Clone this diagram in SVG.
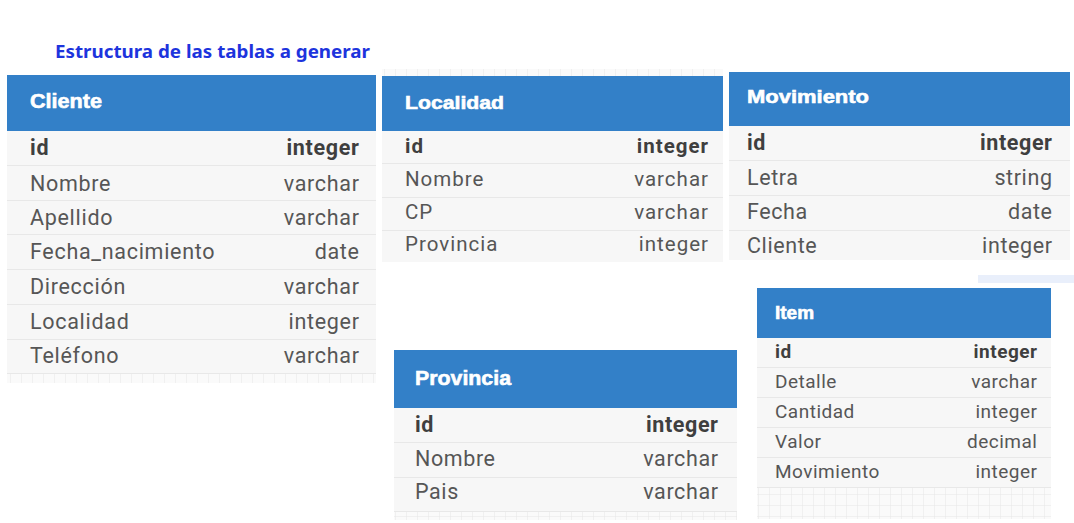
<svg xmlns="http://www.w3.org/2000/svg" width="1074" height="523" viewBox="0 0 1074 523">
  <defs>
    <pattern id="grid" width="11" height="11" patternUnits="userSpaceOnUse">
      <rect width="11" height="11" fill="#fafafa"/>
      <path d="M11 0V11M0 11H11" stroke="#e6e6e6" stroke-width="1" fill="none"/>
    </pattern>
    <style>
      .title { font-family: "Noto Sans", "Liberation Sans", sans-serif; font-weight: 700; font-size: 17px; fill: #1d34dd; }
      .head { fill: #3380c8; }
      .hname { font-family: "Liberation Sans", Arial, sans-serif; font-weight: 700; fill: #ffffff; stroke: #ffffff; stroke-width: 0.6; }
      .row { fill: #f7f7f7; }
      .sep { stroke: #e8e8e8; stroke-width: 1; }
      .f { font-family: Roboto, "Liberation Sans", sans-serif; fill: #565656; }
      .k { font-weight: 700; fill: #3f3f3f; }
      .t { text-anchor: end; }
      .grid { fill: url(#grid); }
    </style>
  </defs>
  <rect width="1074" height="523" fill="#ffffff"/>

  <text class="title" x="55" y="58" textLength="315" lengthAdjust="spacingAndGlyphs">Estructura de las tablas a generar</text>

  <!-- Cliente -->
  <g id="cliente">
    <rect class="grid" x="7" y="372" width="369" height="11"/>
    <rect class="row" x="7" y="131" width="369" height="242"/>
    <rect class="head" x="7" y="75" width="369" height="56"/>
    <text class="hname" x="30" y="108" font-size="20" textLength="72" lengthAdjust="spacingAndGlyphs">Cliente</text>
    <g class="sep">
      <line x1="7" y1="165.5" x2="376" y2="165.5"/>
      <line x1="7" y1="200.5" x2="376" y2="200.5"/>
      <line x1="7" y1="234.5" x2="376" y2="234.5"/>
      <line x1="7" y1="269.5" x2="376" y2="269.5"/>
      <line x1="7" y1="304.5" x2="376" y2="304.5"/>
      <line x1="7" y1="339.5" x2="376" y2="339.5"/>
      <line x1="7" y1="373.5" x2="376" y2="373.5"/>
    </g>
    <g font-size="21.5" letter-spacing="0.7">
      <text class="f k" x="30" y="155">id</text>
      <text class="f k t" x="359.7" y="155">integer</text>
      <text class="f" x="30" y="191">Nombre</text>
      <text class="f t" x="359.7" y="191">varchar</text>
      <text class="f" x="30" y="225">Apellido</text>
      <text class="f t" x="359.7" y="225">varchar</text>
      <text class="f" x="30" y="259">Fecha_nacimiento</text>
      <text class="f t" x="359.7" y="259">date</text>
      <text class="f" x="30" y="294">Dirección</text>
      <text class="f t" x="359.7" y="294">varchar</text>
      <text class="f" x="30" y="329">Localidad</text>
      <text class="f t" x="359.7" y="329">integer</text>
      <text class="f" x="30" y="363">Teléfono</text>
      <text class="f t" x="359.7" y="363">varchar</text>
    </g>
  </g>

  <!-- Localidad -->
  <g id="localidad">
    <rect class="grid" x="382" y="69" width="341" height="7"/>
    <rect class="row" x="382" y="131" width="341" height="131"/>
    <rect class="head" x="382" y="76" width="341" height="55"/>
    <text class="hname" x="405" y="109" font-size="19" textLength="99" lengthAdjust="spacingAndGlyphs">Localidad</text>
    <g class="sep">
      <line x1="382" y1="163.5" x2="723" y2="163.5"/>
      <line x1="382" y1="197.5" x2="723" y2="197.5"/>
      <line x1="382" y1="230.5" x2="723" y2="230.5"/>
    </g>
    <g font-size="20.5" letter-spacing="1">
      <text class="f k" x="405" y="153">id</text>
      <text class="f k t" x="709" y="153">integer</text>
      <text class="f" x="405" y="186">Nombre</text>
      <text class="f t" x="709" y="186">varchar</text>
      <text class="f" x="405" y="219">CP</text>
      <text class="f t" x="709" y="219">varchar</text>
      <text class="f" x="405" y="251">Provincia</text>
      <text class="f t" x="709" y="251">integer</text>
    </g>
  </g>

  <!-- Movimiento -->
  <g id="movimiento">
    <rect x="978" y="275" width="96" height="8" fill="#e9effb"/>
    <rect class="row" x="729" y="126" width="341" height="134"/>
    <rect class="head" x="729" y="72" width="341" height="54"/>
    <text class="hname" x="747" y="103" font-size="19" textLength="122" lengthAdjust="spacingAndGlyphs">Movimiento</text>
    <g class="sep">
      <line x1="729" y1="160.5" x2="1070" y2="160.5"/>
      <line x1="729" y1="195.5" x2="1070" y2="195.5"/>
      <line x1="729" y1="230.5" x2="1070" y2="230.5"/>
    </g>
    <g font-size="21.5" letter-spacing="0.6">
      <text class="f k" x="747" y="150">id</text>
      <text class="f k t" x="1052.6" y="150">integer</text>
      <text class="f" x="747" y="185">Letra</text>
      <text class="f t" x="1052.6" y="185">string</text>
      <text class="f" x="747" y="219">Fecha</text>
      <text class="f t" x="1052.6" y="219">date</text>
      <text class="f" x="747" y="253">Cliente</text>
      <text class="f t" x="1052.6" y="253">integer</text>
    </g>
  </g>

  <!-- Provincia -->
  <g id="provincia">
    <rect class="grid" x="394" y="510" width="343" height="10"/>
    <rect class="row" x="394" y="408" width="343" height="103"/>
    <rect class="head" x="394" y="350" width="343" height="58"/>
    <text class="hname" x="415" y="385" font-size="20" textLength="96" lengthAdjust="spacingAndGlyphs">Provincia</text>
    <g class="sep">
      <line x1="394" y1="442.5" x2="737" y2="442.5"/>
      <line x1="394" y1="477.5" x2="737" y2="477.5"/>
      <line x1="394" y1="511.5" x2="737" y2="511.5"/>
    </g>
    <g font-size="21.5" letter-spacing="0.6">
      <text class="f k" x="415" y="432">id</text>
      <text class="f k t" x="718.6" y="432">integer</text>
      <text class="f" x="415" y="466">Nombre</text>
      <text class="f t" x="718.6" y="466">varchar</text>
      <text class="f" x="415" y="499">Pais</text>
      <text class="f t" x="718.6" y="499">varchar</text>
    </g>
  </g>

  <!-- Item -->
  <g id="item">
    <rect class="grid" x="757" y="487" width="294" height="32"/>
    <rect class="row" x="757" y="338" width="294" height="149"/>
    <rect class="head" x="757" y="288" width="294" height="50"/>
    <text class="hname" x="775" y="319" font-size="18" textLength="39" lengthAdjust="spacingAndGlyphs">Item</text>
    <g class="sep">
      <line x1="757" y1="367.5" x2="1051" y2="367.5"/>
      <line x1="757" y1="397.5" x2="1051" y2="397.5"/>
      <line x1="757" y1="427.5" x2="1051" y2="427.5"/>
      <line x1="757" y1="457.5" x2="1051" y2="457.5"/>
      <line x1="757" y1="487.5" x2="1051" y2="487.5"/>
    </g>
    <g font-size="19" letter-spacing="0.5">
      <text class="f k" x="775" y="358">id</text>
      <text class="f k t" x="1037.5" y="358">integer</text>
      <text class="f" x="775" y="388">Detalle</text>
      <text class="f t" x="1037.5" y="388">varchar</text>
      <text class="f" x="775" y="418">Cantidad</text>
      <text class="f t" x="1037.5" y="418">integer</text>
      <text class="f" x="775" y="448">Valor</text>
      <text class="f t" x="1037.5" y="448">decimal</text>
      <text class="f" x="775" y="478">Movimiento</text>
      <text class="f t" x="1037.5" y="478">integer</text>
    </g>
  </g>
</svg>
